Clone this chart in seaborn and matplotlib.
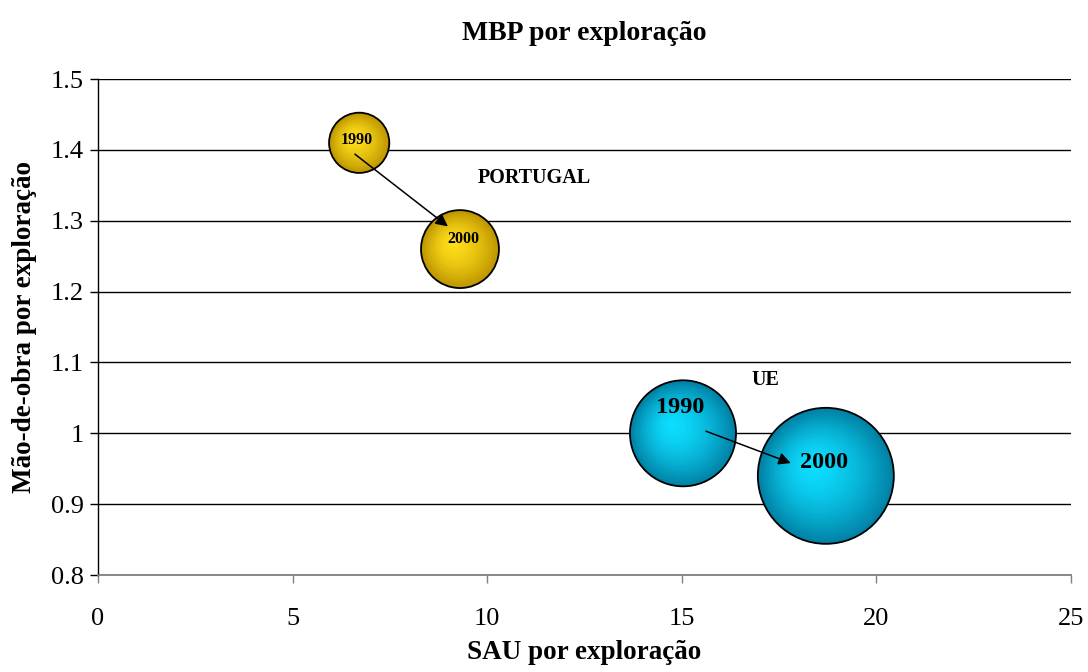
import matplotlib
matplotlib.use("Agg")
import matplotlib.pyplot as plt
import matplotlib.transforms as mtransforms
import numpy as np
import pandas as pd
import seaborn as sns

# data
regiao = ["PORTUGAL", "PORTUGAL", "UE", "UE"]
ano = ["1990", "2000", "1990", "2000"]
sau = [6.71, 9.30, 15.03, 18.70]
mao_obra = [1.41, 1.26, 1.00, 0.94]
mbp = [4.0, 6.7, 12.4, 20.4]

x_ticks = [0, 5, 10, 15, 20, 25]
y_ticks = [0.8, 0.9, 1.0, 1.1, 1.2, 1.3, 1.4, 1.5]
y_tick_labels = ["0.8", "0.9", "1", "1.1", "1.2", "1.3", "1.4", "1.5"]

# annotations: year labels, region labels, arrows
year_label_pos = [(6.65, 1.414), (9.38, 1.274), (14.95, 1.036), (18.65, 0.959)]
year_label_size = [11.5, 11.5, 17.5, 17.5]
region_labels = ["PORTUGAL", "UE"]
region_label_pos = [(11.2, 1.36), (17.16, 1.075)]
arrow_start = [(6.60, 1.394), (15.62, 1.003)]
arrow_end = [(8.99, 1.292), (17.80, 0.958)]

colours = {"PORTUGAL": ((0.74, 0.58, 0.0), (1.0, 0.87, 0.10)),
           "UE": ((0.0, 0.50, 0.64), (0.05, 0.87, 1.0))}

df = pd.DataFrame({"regiao": regiao, "ano": ano, "sau": sau,
                   "mao_obra": mao_obra, "mbp": mbp})

sns.set_style("white")
plt.rcParams["font.family"] = ["Liberation Serif", "DejaVu Serif"]
plt.rcParams["text.color"] = "black"
plt.rcParams["axes.labelcolor"] = "black"

fig = plt.figure(figsize=(10.88, 6.72), dpi=100)
ax = fig.add_axes([0.0901, 0.1443, 0.8943, 0.7381])

smax = 9588
sns.scatterplot(data=df, x="sau", y="mao_obra", hue="regiao",
                palette={k: v[0] for k, v in colours.items()},
                size="mbp", sizes=(0, smax), size_norm=(0, max(mbp)),
                edgecolor="black", linewidth=0, legend=False, ax=ax, zorder=3)

# radial shading, layered circles
sizes = np.array(mbp) / max(mbp) * smax
n_layers = 40
for i, row in df.iterrows():
    edge_c, mid_c = colours[row["regiao"]]
    edge_c = np.array(edge_c)
    mid_c = np.array(mid_c)
    r_pt = np.sqrt(sizes[i]) / 2
    for t in np.linspace(0.99, 0.03, n_layers):
        c = mid_c + (edge_c - mid_c) * t ** 1.6
        dx = -(1 - t) * 0.22 * r_pt
        dy = (1 - t) * 0.18 * r_pt
        tr = ax.transData + mtransforms.ScaledTranslation(dx / 72, dy / 72, fig.dpi_scale_trans)
        ax.scatter([row["sau"]], [row["mao_obra"]], s=sizes[i] * t ** 2,
                   color=c, linewidths=0, transform=tr, zorder=4)

ax.scatter(df["sau"], df["mao_obra"], s=sizes, facecolors="none",
           edgecolors="black", linewidths=1.3, zorder=5)

for (x, y), lab, fs in zip(year_label_pos, ano, year_label_size):
    ax.text(x, y, lab, ha="center", va="center", fontsize=fs,
            fontweight="bold", color="black", zorder=7)

for (x, y), lab in zip(region_label_pos, region_labels):
    ax.text(x, y, lab, ha="center", va="center", fontsize=14.5,
            fontweight="bold", color="black", zorder=7)

for s0, s1 in zip(arrow_start, arrow_end):
    ax.annotate("", xy=s1, xytext=s0, zorder=6,
                arrowprops=dict(arrowstyle="-|>", color="black", lw=1.1,
                                mutation_scale=18, shrinkA=0, shrinkB=0))

ax.set_xlim(0, 25)
ax.set_ylim(0.8, 1.5)
ax.set_xticks(x_ticks)
ax.set_yticks(y_ticks)
ax.set_yticklabels(y_tick_labels)
ax.yaxis.grid(True, color="black", linewidth=1)
ax.xaxis.grid(False)
ax.set_axisbelow(True)

for side in ["top", "right"]:
    ax.spines[side].set_visible(False)
ax.spines["left"].set_color("black")
ax.spines["left"].set_linewidth(1)
ax.spines["bottom"].set_color("#808080")
ax.spines["bottom"].set_linewidth(1.3)

ax.tick_params(axis="both", which="major", direction="out", length=6,
               width=1, labelsize=19, left=True, bottom=True)
ax.tick_params(axis="x", colors="#808080", labelcolor="black", pad=18)
ax.tick_params(axis="y", colors="black", labelcolor="black", pad=4)

ax.set_xlabel("SAU por exploração", fontsize=19.5, fontweight="bold", labelpad=7)
ax.set_ylabel("Mão-de-obra por exploração", fontsize=19.5, fontweight="bold", labelpad=10)
ax.set_title("MBP por exploração", fontsize=20, fontweight="bold", pad=28)

fig.savefig("out.png", dpi=100)
plt.close(fig)
